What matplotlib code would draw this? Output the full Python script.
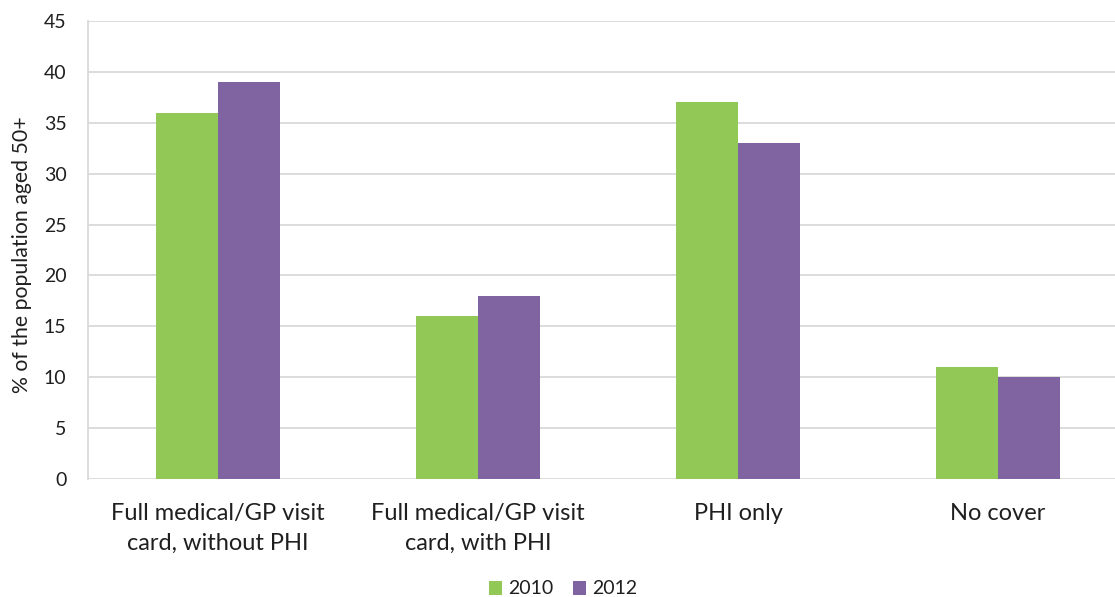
import numpy as np
import matplotlib
matplotlib.use("Agg")
import matplotlib.pyplot as plt

plt.rcParams['font.family'] = ['Lato', 'DejaVu Sans']

# health cover of people aged 50+, by type of cover
categories = ["Full medical/GP visit\ncard, without PHI",
              "Full medical/GP visit\ncard, with PHI",
              "PHI only",
              "No cover"]
years = ["2010", "2012"]
share_2010 = [36, 16, 37, 11]
share_2012 = [39, 18, 33, 10]

colors = ["#92C855", "#8064A2"]
grid_col = "#D9D9D9"
txt_col = "#1F1F1F"

fig = plt.figure(figsize=(11.15, 5.97), dpi=100)
# plot area runs past the right edge, as in the exported figure
ax = fig.add_axes([88/1115, 118/597, 1040/1115, 458/597])

x = np.arange(len(categories))
w = 0.238
ax.bar(x - w/2, share_2010, w, color=colors[0], label=years[0], zorder=3)
ax.bar(x + w/2, share_2012, w, color=colors[1], label=years[1], zorder=3)

ax.set_xlim(-0.5, 3.5)
ax.set_ylim(0, 45)
ax.set_yticks(np.arange(0, 46, 5))
ax.yaxis.grid(True, color=grid_col, linewidth=1.3, zorder=0)
ax.set_axisbelow(True)

for s in ["top", "right", "bottom"]:
    ax.spines[s].set_visible(False)
ax.spines["left"].set_color(grid_col)
ax.spines["left"].set_linewidth(1.3)

ax.tick_params(axis="y", length=0, pad=15.5, labelsize=14, labelcolor=txt_col)
ax.tick_params(axis="x", length=0, pad=17, labelsize=17, labelcolor=txt_col)
ax.set_xticks(x)
ax.set_xticklabels(categories, linespacing=1.55)

fig.text(22/1115, 1 - 255/597, "% of the population aged 50+", rotation=90,
         ha="center", va="center", fontsize=15.3, color=txt_col)

fig.legend(loc="center", bbox_to_anchor=(563/1115, 1 - 589/597), ncol=2,
           frameon=False, fontsize=14, handlelength=0.7, handleheight=0.7,
           handletextpad=0.3, columnspacing=1.0, labelcolor=txt_col)

fig.savefig("out.png", dpi=100)
